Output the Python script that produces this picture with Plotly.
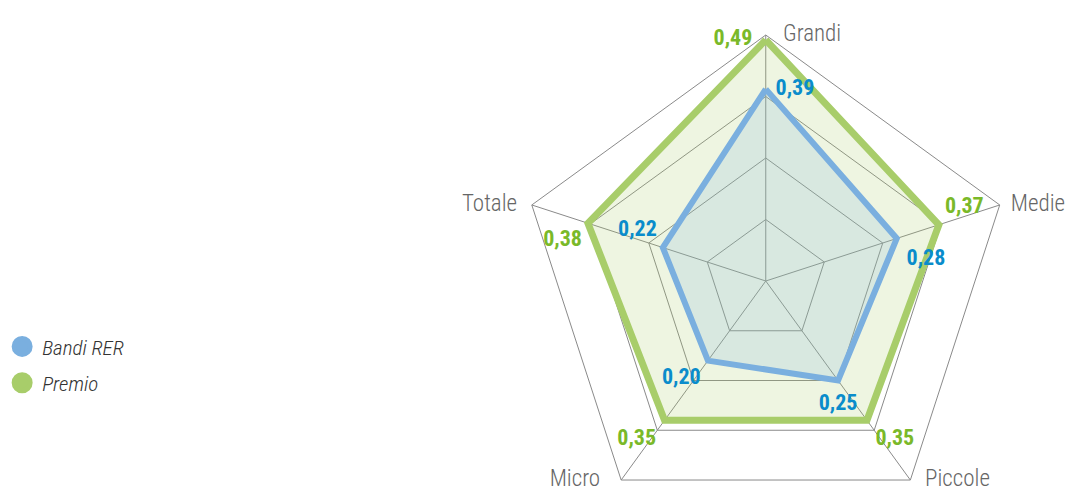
import plotly.graph_objects as go

categories = ["Grandi", "Medie", "Piccole", "Micro", "Totale"]
bandi_rer = [0.39, 0.28, 0.25, 0.20, 0.22]
premio = [0.49, 0.37, 0.35, 0.35, 0.38]
bandi_labels = ["0,39", "0,28", "0,25", "0,20", "0,22"]
premio_labels = ["0,49", "0,37", "0,35", "0,35", "0,38"]
series_names = ["Bandi RER", "Premio"]
R_MAX = 0.5
grid_vals = [0.125, 0.25, 0.375, 0.5]

FONT = "Liberation Sans Narrow, Roboto Condensed, DejaVu Sans Condensed, Roboto, sans-serif"
BLUE = "rgb(122,175,223)"
GREEN = "rgb(168,205,106)"
CLEAR = "rgba(0,0,0,0)"


def closed(vals):
    return list(vals) + [vals[0]]


fig = go.Figure()

# Premio
fig.add_trace(go.Scatterpolar(
    r=closed(premio), theta=closed(categories),
    mode="lines+markers+text", fill="toself",
    fillcolor="rgba(168,205,106,0.2)",
    line=dict(color=GREEN, width=7),
    marker=dict(color=CLEAR, size=[20, 8, 12, 12, 8, 1], line=dict(width=0)),
    text=premio_labels + [""],
    textposition=["middle left", "top right", "bottom right", "bottom left", "bottom left", "top left"],
    textfont=dict(family=FONT, size=22, color="rgb(122,185,41)", weight="bold"),
    cliponaxis=False, showlegend=False, hoverinfo="skip",
))
# Bandi RER
fig.add_trace(go.Scatterpolar(
    r=closed(bandi_rer), theta=closed(categories),
    mode="lines+markers+text", fill="toself",
    fillcolor="rgba(122,175,223,0.19)",
    line=dict(color=BLUE, width=6),
    marker=dict(color=CLEAR, size=[14, 14, 19, 10, 8, 1], line=dict(width=0)),
    text=bandi_labels + [""],
    textposition=["middle right", "bottom right", "bottom center", "bottom left", "top left", "top left"],
    textfont=dict(family=FONT, size=22, color="rgb(10,140,203)", weight="bold"),
    cliponaxis=False, showlegend=False, hoverinfo="skip",
))

# category labels at the outer ring
fig.add_trace(go.Scatterpolar(
    r=[R_MAX] * len(categories), theta=categories,
    mode="markers+text", text=categories,
    marker=dict(color=CLEAR, size=[26, 16, 22, 32, 22], line=dict(width=0)),
    textposition=["middle right", "middle right", "middle right", "middle left", "middle left"],
    textfont=dict(family=FONT, size=23, color="#666666", weight=300),
    cliponaxis=False, showlegend=False, hoverinfo="skip",
))

# legend entries
for name, col, grp in [(series_names[0], BLUE, "a"), (series_names[1], GREEN, "b")]:
    fig.add_trace(go.Scatterpolar(
        r=[None], theta=[categories[0]], mode="markers", name=name,
        marker=dict(color=col, size=22, symbol="circle", line=dict(color=col, width=5)),
        legendgroup=grp, showlegend=True,
    ))

fig.update_layout(
    width=1071, height=530,
    margin=dict(l=0, r=0, t=35, b=3),
    paper_bgcolor="white", plot_bgcolor="white",
    font=dict(family=FONT, color="#666666"),
    polar=dict(
        domain=dict(x=[0.47, 0.96], y=[0, 1]),
        bgcolor="rgba(0,0,0,0)",
        gridshape="linear",
        radialaxis=dict(range=[0, R_MAX], tickvals=grid_vals,
                        showticklabels=False, ticks="", showline=False,
                        gridcolor="#8a8a8a", gridwidth=1),
        angularaxis=dict(rotation=90, direction="clockwise",
                         showticklabels=False,
                         ticks="", showline=True, linecolor="#8a8a8a", linewidth=1,
                         gridcolor="#8a8a8a", gridwidth=1),
    ),
    legend=dict(x=0.002, y=0.408, xanchor="left", yanchor="top",
                font=dict(family=FONT, size=21, color="#333333", style="italic", weight=300),
                traceorder="grouped", tracegroupgap=6, itemsizing="trace"),
    showlegend=True,
)

fig.write_html("out.html", config={"displayModeBar": False},
               post_script="document.body.style.margin='0';document.body.style.overflow='hidden';document.documentElement.style.overflow='hidden';")
